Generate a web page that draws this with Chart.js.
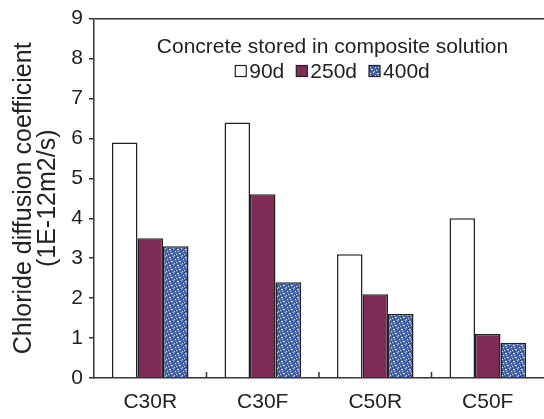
<!DOCTYPE html>
<html>
<head>
<meta charset="utf-8">
<script src="https://cdn.jsdelivr.net/npm/chart.js@4"></script>
<style>
  html, body { margin: 0; padding: 0; background: #fff; overflow: hidden; }
  #wrap { width: 544px; height: 419px; }
</style>
</head>
<body>
<div id="wrap"><canvas id="chart" width="544" height="419"></canvas></div>
<script>
// values
const categories = ['C30R', 'C30F', 'C50R', 'C50F'];
const days90 = [5.9, 6.4, 3.1, 4.0];
const days250 = [3.5, 4.6, 2.1, 1.1];
const days400 = [3.3, 2.4, 1.6, 0.88];
const yTicks = [0, 1, 2, 3, 4, 5, 6, 7, 8, 9];
const legendTitle = 'Concrete stored in composite solution';

const FONT = '"Liberation Sans", Arial, Helvetica, sans-serif';
const INK = '#222';

// speckled blue texture for the 400d bars
function makeSpeckle() {
    const c = document.createElement('canvas');
    c.width = 8; c.height = 8;
    const g = c.getContext('2d');
    g.fillStyle = '#4a68aa';
    g.fillRect(0, 0, 8, 8);
    g.fillStyle = '#2b437f';
    [[0,0],[3,1],[6,2],[1,4],[5,5],[2,7],[7,6],[4,3]].forEach(p => g.fillRect(p[0], p[1], 1, 1));
    g.fillStyle = '#dfe6f4';
    [[1,1],[2,1],[5,0],[7,3],[0,6],[3,5],[4,5],[6,7],[2,3]].forEach(p => g.fillRect(p[0], p[1], 1, 1));
    return g.createPattern(c, 'repeat');
}

// little inward ticks between the categories on the x axis
const innerTicks = {
    id: 'innerTicks',
    afterDatasetsDraw(chart) {
        const x = chart.scales.x, ctx = chart.ctx, bottom = chart.chartArea.bottom;
        ctx.save();
        ctx.strokeStyle = '#333';
        ctx.lineWidth = 1.5;
        for (let i = 1; i < categories.length; i++) {
            const px = (x.getPixelForValue(i - 1) + x.getPixelForValue(i)) / 2;
            ctx.beginPath();
            ctx.moveTo(px, bottom);
            ctx.lineTo(px, bottom - 6);
            ctx.stroke();
        }
        ctx.restore();
    }
};

// legend drawn inside the plot frame, under the top border
const innerLegend = {
    id: 'innerLegend',
    afterDraw(chart, args, opts) {
        const ctx = chart.ctx, area = chart.chartArea;
        const cx = area.left + (area.right - area.left) * opts.centerFrac;
        ctx.save();
        ctx.font = '21px ' + FONT;
        ctx.fillStyle = INK;
        ctx.textBaseline = 'middle';
        ctx.textAlign = 'center';
        ctx.fillText(legendTitle, cx, opts.titleY);

        const box = 11, gapText = 3, gapItem = 12;
        const items = chart.data.datasets.map(ds => ({ ds, w: ctx.measureText(ds.label).width }));
        let total = items.reduce((s, it) => s + box + gapText + it.w, 0) + gapItem * (items.length - 1);
        let x = cx - total / 2;
        ctx.textAlign = 'left';
        items.forEach(it => {
            ctx.fillStyle = it.ds.backgroundColor;
            ctx.fillRect(x, opts.rowY - box / 2, box, box);
            ctx.strokeStyle = INK;
            ctx.lineWidth = 1.2;
            ctx.strokeRect(x, opts.rowY - box / 2, box, box);
            ctx.fillStyle = INK;
            ctx.fillText(it.ds.label, x + box + gapText, opts.rowY + 1);
            x += box + gapText + it.w + gapItem;
        });
        ctx.restore();
    }
};

const ctx = document.getElementById('chart');
const chart = new Chart(ctx, {
    type: 'bar',
    data: {
        labels: categories,
        datasets: [
            { label: '90d', data: days90, backgroundColor: '#ffffff', borderColor: INK, borderWidth: 1.5 },
            { label: '250d', data: days250, backgroundColor: '#7f2c57', borderColor: INK, borderWidth: 1.5 },
            { label: '400d', data: days400, backgroundColor: makeSpeckle(), borderColor: INK, borderWidth: 1.5 }
        ]
    },
    options: {
        responsive: false,
        animation: false,
        layout: { padding: { top: 13, right: -3, left: 0, bottom: 0 } },
        datasets: { bar: { barPercentage: 1, categoryPercentage: 0.68 } },
        plugins: {
            tooltip: { enabled: false },
            legend: { display: false },
            innerLegend: { centerFrac: 0.53, titleY: 47, rowY: 71 }
        },
        scales: {
            x: {
                grid: { display: true, drawOnChartArea: false, drawTicks: false, offset: true },
                border: { color: '#333', width: 1.5 },
                ticks: { color: INK, font: { family: FONT, size: 21 }, padding: 12 },
                afterFit(scale) { scale.height = 41; }
            },
            y: {
                min: 0,
                max: 9,
                afterBuildTicks(scale) { scale.ticks = yTicks.map(v => ({ value: v })); },
                grid: {
                    color: c => (c.tick && c.tick.value === 9 ? '#333' : 'rgba(0,0,0,0)'),
                    lineWidth: 1.5,
                    tickColor: '#333',
                    tickLength: 5
                },
                border: { color: '#333', width: 1.5 },
                ticks: { color: INK, font: { family: FONT, size: 21 }, padding: 6 },
                title: {
                    display: true,
                    text: ['Chloride diffusion coefficient', '(1E-12m2/s)'],
                    color: INK,
                    font: { family: FONT, size: 25, lineHeight: 0.96 },
                    padding: { top: 12, bottom: 0 }
                },
                afterFit(scale) { scale.width = 94; }
            }
        }
    },
    plugins: [innerTicks, innerLegend]
});
</script>
</body>
</html>
